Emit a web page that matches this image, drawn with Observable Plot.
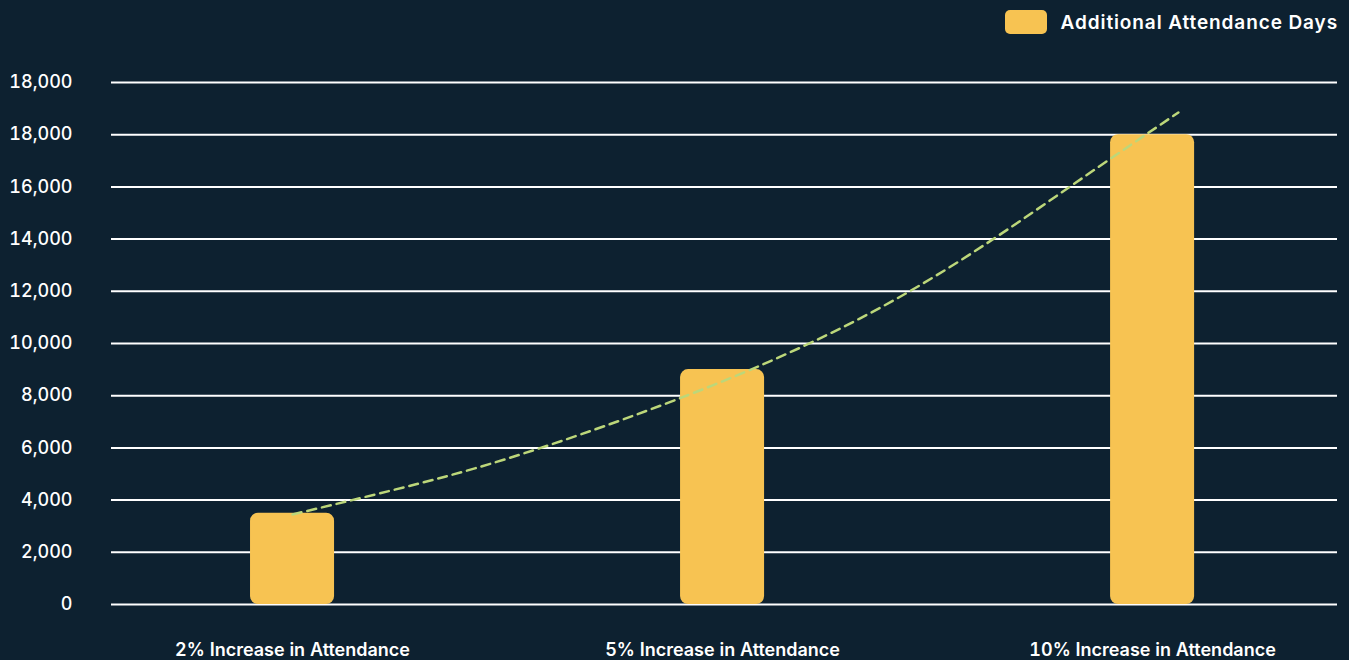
<!DOCTYPE html>
<html>
<head>
<meta charset="utf-8">
<script src="https://cdn.jsdelivr.net/npm/d3@7"></script>
<script src="https://cdn.jsdelivr.net/npm/@observablehq/plot@0.6"></script>
<style>
  html, body { margin: 0; padding: 0; background: #0d2130; }
  body { width: 1349px; height: 660px; position: relative; overflow: hidden; font-family: Inter, "Noto Sans", sans-serif; }
  #legend { position: absolute; top: 10px; right: 11px; display: flex; align-items: center; gap: 14px; color: #ffffff; font-size: 19px; font-weight: 600; letter-spacing: 0.9px; }
  #legend .sw { width: 42px; height: 24px; border-radius: 5px; background: #f7c352; }
  #chart { position: absolute; left: 0; top: 0; }
</style>
</head>
<body>
<div id="legend"><span class="sw"></span><span id="legend-label"></span></div>
<div id="chart"></div>
<script>
// Data
const categories = ["2% Increase in Attendance", "5% Increase in Attendance", "10% Increase in Attendance"];
const values = [3500, 9000, 18000];
const seriesName = "Additional Attendance Days";
// y-axis tick values and labels as shown in the reference
const yTickValues = [0, 2000, 4000, 6000, 8000, 10000, 12000, 14000, 16000, 18000, 20000];
const yTickLabels = ["0", "2,000", "4,000", "6,000", "8,000", "10,000", "12,000", "14,000", "16,000", "18,000", "18,000"];
// dashed trend line (position in category units, value)
const trendPos = [0, 0.295, 0.577, 1.0, 1.435, 1.807, 2.06];
const trendVal = [3450, 4640, 6000, 8550, 12000, 16000, 18850];

document.getElementById("legend-label").textContent = seriesName;

const bars = categories.map((c, i) => ({cat: c, i, value: values[i]}));
const trend = trendPos.map((p, k) => ({p, v: trendVal[k]}));
const half = 0.0977;

const plot = Plot.plot({
  width: 1349,
  height: 660,
  marginTop: 82,
  marginBottom: 56,
  marginLeft: 111,
  marginRight: 12,
  style: { background: "transparent", color: "#ffffff", fontFamily: "Inter, 'Noto Sans', sans-serif", overflow: "visible" },
  x: { type: "linear", domain: [-0.421, 2.430] },
  y: { domain: [0, 20000] },
  marks: [
    Plot.ruleY(yTickValues, { stroke: "#ffffff", strokeWidth: 2, strokeOpacity: 1 }),
    Plot.rect(bars, { x1: d => d.i - half, x2: d => d.i + half, y1: 0, y2: "value", fill: "#f7c352", rx: 8, title: d => `${d.cat}: ${d.value}` }),
    Plot.line(trend, { x: "p", y: "v", curve: "natural", stroke: "#bcd77a", strokeWidth: 2.5, strokeDasharray: "9,6" }),
    Plot.axisY({ ticks: yTickValues, tickFormat: d => yTickLabels[yTickValues.indexOf(d)], tickSize: 0, tickPadding: 39, fontSize: 18, fontWeight: 500, label: null, fill: "#ffffff" }),
    Plot.axisX({ ticks: categories.map((c, i) => i), tickFormat: i => categories[i], tickSize: 0, tickPadding: 39, fontSize: 18, fontWeight: 600, label: null, fill: "#ffffff" })
  ]
});
document.getElementById("chart").appendChild(plot);
</script>
</body>
</html>
